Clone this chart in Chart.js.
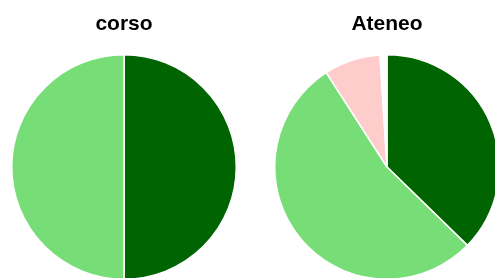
<!DOCTYPE html>
<html>
<head>
<meta charset="utf-8">
<script src="https://cdn.jsdelivr.net/npm/chart.js@4"></script>
<style>
    html, body { margin: 0; padding: 0; background: #fff; overflow: hidden; width: 495px; height: 278px; }
    .box { position: absolute; top: 0; width: 226px; height: 280px; }
</style>
</head>
<body>
<div class="box" style="left: 11px;"><canvas id="myChart"></canvas></div>
<div class="box" style="left: 274px;"><canvas id="myChart2"></canvas></div>
<script>
const labels = ['Sì', 'No', 'Non so', 'Altro'];
const corsoValues = [50, 50, 0, 0];
const ateneoValues = [37.3, 53.6, 8.1, 1.0];
const colors = ['#006400', '#77DD77', '#FFCCCC', '#FFFFFF'];

function makePie(id, title, values) {
    const ctx = document.getElementById(id);
    new Chart(ctx, {
        type: 'pie',
        data: {
            labels: labels,
            datasets: [{
                label: '',
                data: values,
                backgroundColor: colors,
                borderColor: '#FFFFFF',
                borderWidth: 1.5
            }]
        },
        options: {
            responsive: true,
            maintainAspectRatio: false,
            animation: false,
            layout: { padding: 0 },
            plugins: {
                title: {
                    display: true,
                    text: title,
                    color: '#000',
                    font: { family: 'Liberation Sans, Arial, sans-serif', size: 21, weight: 'bold', lineHeight: 1.2 },
                    padding: { top: 11.9, bottom: 16.9 }
                },
                legend: { display: false },
                tooltip: { enabled: false }
            }
        }
    });
}

makePie('myChart', 'corso', corsoValues);
makePie('myChart2', 'Ateneo', ateneoValues);
</script>
</body>
</html>
